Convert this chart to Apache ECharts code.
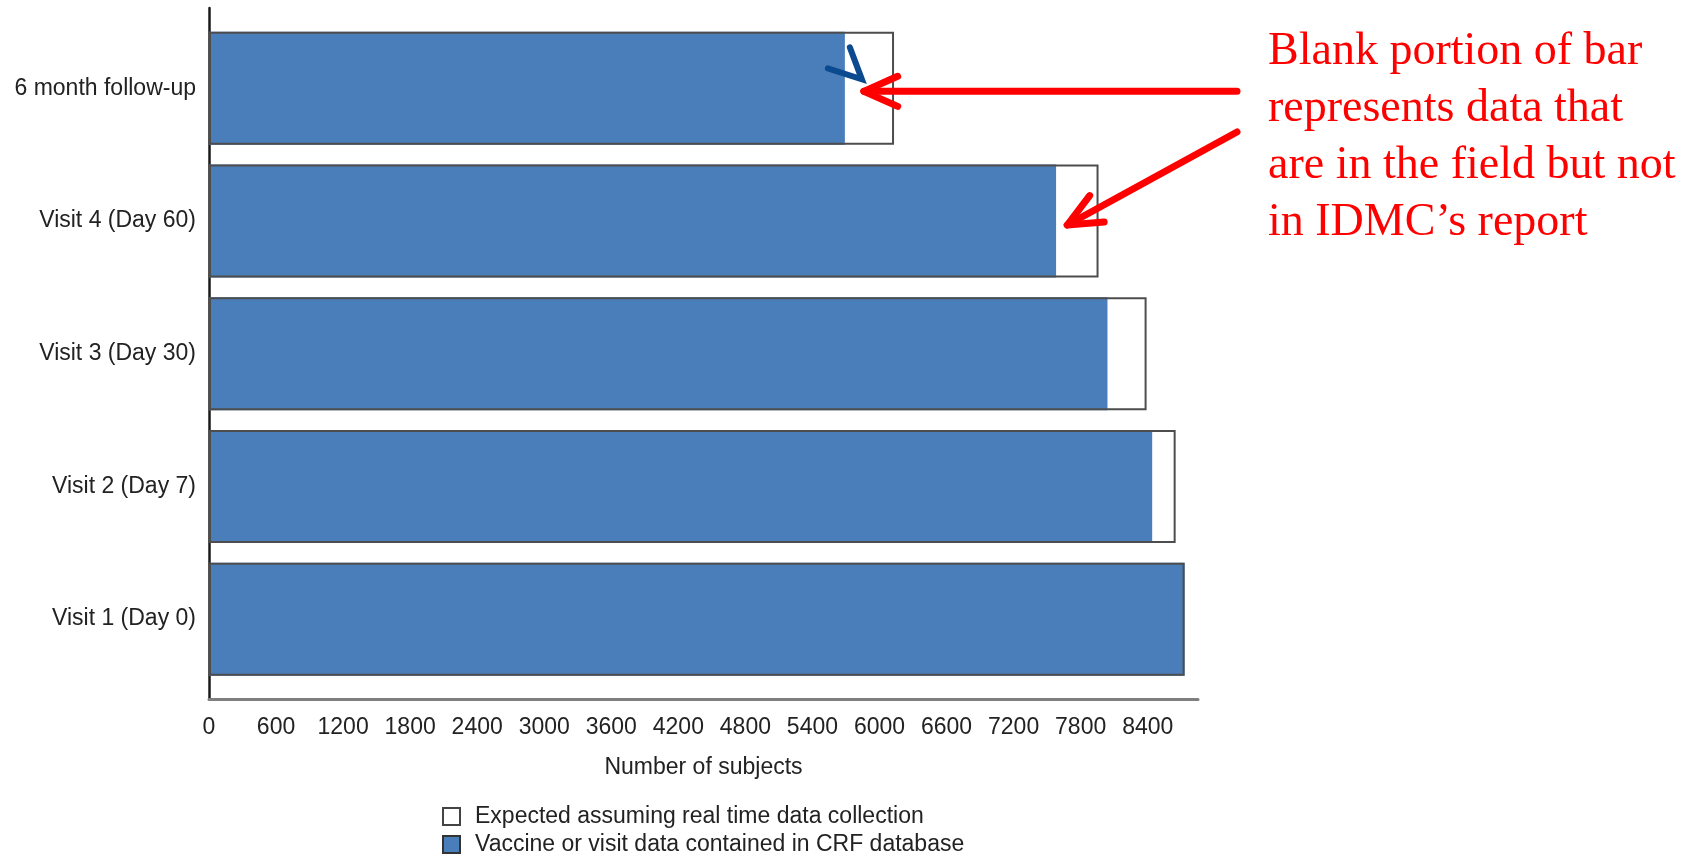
<!DOCTYPE html>
<html>
<head>
<meta charset="utf-8">
<script src="https://cdn.jsdelivr.net/npm/echarts@6/dist/echarts.min.js"></script>
<style>
  html, body { margin: 0; padding: 0; background: #ffffff; }
  #chart { width: 1702px; height: 856px; }
</style>
</head>
<body>
<div id="chart"></div>
<script>
// Visits, listed bottom to top
const categories = ['Visit 1 (Day 0)', 'Visit 2 (Day 7)', 'Visit 3 (Day 30)', 'Visit 4 (Day 60)', '6 month follow-up'];
// Subjects whose vaccine / visit data are in the CRF database
const crfDatabase = [8730, 8440, 8040, 7580, 5690];
// Subjects expected if data were collected in real time
const expectedRealTime = [8730, 8650, 8390, 7960, 6130];
// Value axis range and step
const axisMin = 0;
const axisMax = 8850;
const axisStep = 600;
// Annotation text and the bar positions the arrows point to
const noteLines = ['Blank portion of bar', 'represents data that', 'are in the field but not', 'in IDMC\u2019s report'];
const arrowTargets = [
  { category: '6 month follow-up', value: 5860 },
  { category: 'Visit 4 (Day 60)', value: 7680 }
];

const SANS = '"Liberation Sans", Arial, Helvetica, sans-serif';
const SERIF = '"Liberation Serif", "Times New Roman", serif';
const TEXT = '#222222';
const NAME_EXP = 'Expected assuming real time data collection';
const NAME_CRF = 'Vaccine or visit data contained in CRF database';

const chart = echarts.init(document.getElementById('chart'), null, { renderer: 'canvas' });

chart.setOption({
  animation: false,
  backgroundColor: '#ffffff',
  grid: [
    // frame carrying the axis lines and value labels
    { left: 209, width: 989, top: 8, height: 691 },
    // band area holding the bars
    { left: 209, width: 989, top: 22, height: 663.5 }
  ],
  xAxis: [
    {
      gridIndex: 0, type: 'value', min: axisMin, max: axisMax, interval: axisStep,
      axisLine: { show: true, lineStyle: { color: '#7f7f7f', width: 3 } },
      axisTick: { show: false },
      splitLine: { show: false },
      axisLabel: {
        fontSize: 23, color: TEXT, fontFamily: SANS, margin: 17, showMaxLabel: false,
        formatter: v => String(v)
      },
      name: 'Number of subjects', nameLocation: 'middle', nameGap: 57,
      nameTextStyle: { fontSize: 23, color: TEXT, fontFamily: SANS }
    },
    { gridIndex: 1, type: 'value', min: axisMin, max: axisMax, show: false }
  ],
  yAxis: [
    {
      gridIndex: 0, type: 'value', min: 0, max: 1,
      axisLine: { show: true, onZero: false, lineStyle: { color: '#1a1a1a', width: 2.5 } },
      axisTick: { show: false }, axisLabel: { show: false }, splitLine: { show: false }
    },
    {
      gridIndex: 1, type: 'category', data: categories,
      axisLine: { show: false }, axisTick: { show: false },
      axisLabel: { fontSize: 23, color: TEXT, fontFamily: SANS, margin: 13 }
    }
  ],
  legend: {
    orient: 'vertical', left: 442, top: 805, padding: 0,
    itemWidth: 17, itemHeight: 17, itemGap: 5, icon: 'rect', selectedMode: false,
    textStyle: { fontSize: 23, color: TEXT, fontFamily: SANS, padding: [0, 0, 0, 10] },
    data: [
      { name: NAME_EXP, itemStyle: { color: '#ffffff', borderColor: '#444444', borderWidth: 2 } },
      { name: NAME_CRF, itemStyle: { color: '#4a7ebb', borderColor: '#333333', borderWidth: 2 } }
    ]
  },
  series: [
    {
      name: NAME_CRF, type: 'bar', xAxisIndex: 1, yAxisIndex: 1,
      data: crfDatabase, barWidth: 113, barGap: '-100%', z: 2,
      itemStyle: { color: '#4a7ebb' }
    },
    {
      name: NAME_EXP, type: 'bar', xAxisIndex: 1, yAxisIndex: 1,
      data: expectedRealTime, barWidth: 113, barGap: '-100%', z: 3,
      itemStyle: { color: 'rgba(255,255,255,0)', borderColor: '#4d4d4d', borderWidth: 2 }
    }
  ]
});

// Arrow from a tail point to a tip anchored on the bar scale
function arrow(tail, tip) {
  const dx = tail[0] - tip[0], dy = tail[1] - tip[1];
  const ang = Math.atan2(dy, dx);
  const len = 37, spread = 24 * Math.PI / 180;
  const a1 = [tip[0] + len * Math.cos(ang - spread), tip[1] + len * Math.sin(ang - spread)];
  const a2 = [tip[0] + len * Math.cos(ang + spread), tip[1] + len * Math.sin(ang + spread)];
  const style = { stroke: '#ff0000', lineWidth: 7, lineCap: 'round', lineJoin: 'round', fill: null };
  return [
    { type: 'polyline', shape: { points: [tail, tip] }, style: style, z: 10 },
    { type: 'polyline', shape: { points: [a1, tip, a2] }, style: style, z: 10 }
  ];
}

const tips = arrowTargets.map(t =>
  chart.convertToPixel({ xAxisIndex: 1, yAxisIndex: 1 }, [t.value, categories.indexOf(t.category)])
);
tips[0][1] += 3;
tips[1][1] += 4;

const graphics = [];
graphics.push(...arrow([1237, tips[0][1]], tips[0]));
graphics.push(...arrow([1237, 132], tips[1]));
// small hand-drawn tick beside the first arrow
graphics.push({
  type: 'polyline',
  shape: { points: [[tips[0][0] - 36, tips[0][1] - 23], [tips[0][0] - 2, tips[0][1] - 12], [tips[0][0] - 14, tips[0][1] - 44]] },
  style: { stroke: '#0b4a8e', lineWidth: 6, lineCap: 'round', lineJoin: 'miter', fill: null },
  z: 10
});
noteLines.forEach((line, i) => {
  graphics.push({
    type: 'text', left: 1268, top: 29 + i * 57, z: 10,
    style: { text: line, fill: '#ff0000', font: '46px ' + SERIF }
  });
});
chart.setOption({ graphic: graphics });
</script>
</body>
</html>
